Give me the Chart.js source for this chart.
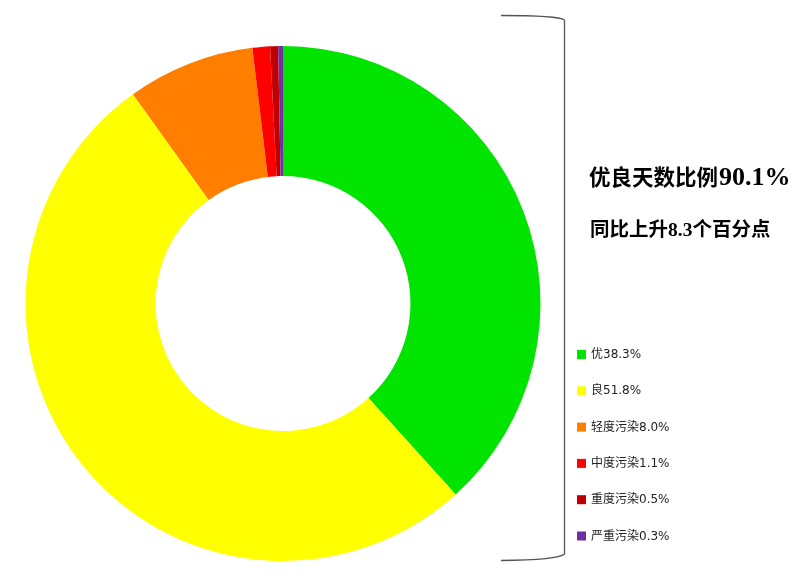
<!DOCTYPE html>
<html><head><meta charset="utf-8">
<script src="https://cdn.jsdelivr.net/npm/chart.js@4/dist/chart.umd.min.js"></script>
<style>html,body{margin:0;padding:0;background:#fff}#wrap{width:810px;height:581px;position:relative}</style>
</head><body><div id="wrap"><canvas id="c" width="810" height="581"></canvas></div>
<script>
const categories = ['优', '良', '轻度污染', '中度污染', '重度污染', '严重污染'];
const shares = [38.3, 51.8, 8.0, 1.1, 0.5, 0.3];
const colors = ['#00E400', '#FFFF00', '#FF7E00', '#FF0000', '#C00000', '#7030A0'];
const headlineText = '优良天数比例';
const headlineValue = '90.1%';
const subline = '同比上升8.3个百分点';

const overlay = {
  id: 'overlay',
  afterDraw(chart) {
    const ctx = chart.ctx;
    ctx.save();
    // bracket
    ctx.strokeStyle = '#555';
    ctx.lineWidth = 1.3;
    ctx.beginPath();
    ctx.moveTo(501, 15.5);
    ctx.quadraticCurveTo(558, 15.5, 564.5, 20);
    ctx.lineTo(564.5, 554);
    ctx.quadraticCurveTo(558, 560, 501, 560.5);
    ctx.stroke();
    // headline
    ctx.fillStyle = '#000';
    ctx.textBaseline = 'alphabetic';
    ctx.textAlign = 'left';
    ctx.font = "bold 21.5px 'Noto Sans CJK SC'";
    ctx.fillText(headlineText, 589, 185);
    const w = ctx.measureText(headlineText).width;
    ctx.font = "bold 26px 'Liberation Serif'";
    ctx.fillText(headlineValue, 589 + w + 1, 185);
    ctx.textBaseline = 'middle';
    ctx.font = "bold 19.5px 'Liberation Serif', 'Noto Sans CJK SC'";
    ctx.fillText(subline, 590, 231);
    // legend
    const labels = chart.data.labels;
    const ds = chart.data.datasets[0];
    ctx.font = "12px 'DejaVu Sans', 'Noto Sans CJK SC'";
    labels.forEach((l, i) => {
      const y = 354.5 + i * 36.3;
      ctx.fillStyle = ds.backgroundColor[i];
      ctx.fillRect(577, y - 4.5, 9, 9);
      ctx.fillStyle = '#222';
      ctx.fillText(l + ds.data[i].toFixed(1) + '%', 591, y + 0.5);
    });
    ctx.restore();
  }
};

new Chart(document.getElementById('c'), {
  type: 'doughnut',
  data: {
    labels: categories,
    datasets: [{ data: shares, backgroundColor: colors, borderWidth: 0 }]
  },
  options: {
    responsive: false,
    animation: false,
    cutout: '49.5%',
    layout: { padding: { left: 25, right: 269, top: 46, bottom: 20 } },
    plugins: { legend: { display: false }, tooltip: { enabled: false } }
  },
  plugins: [overlay]
});
</script></body></html>
